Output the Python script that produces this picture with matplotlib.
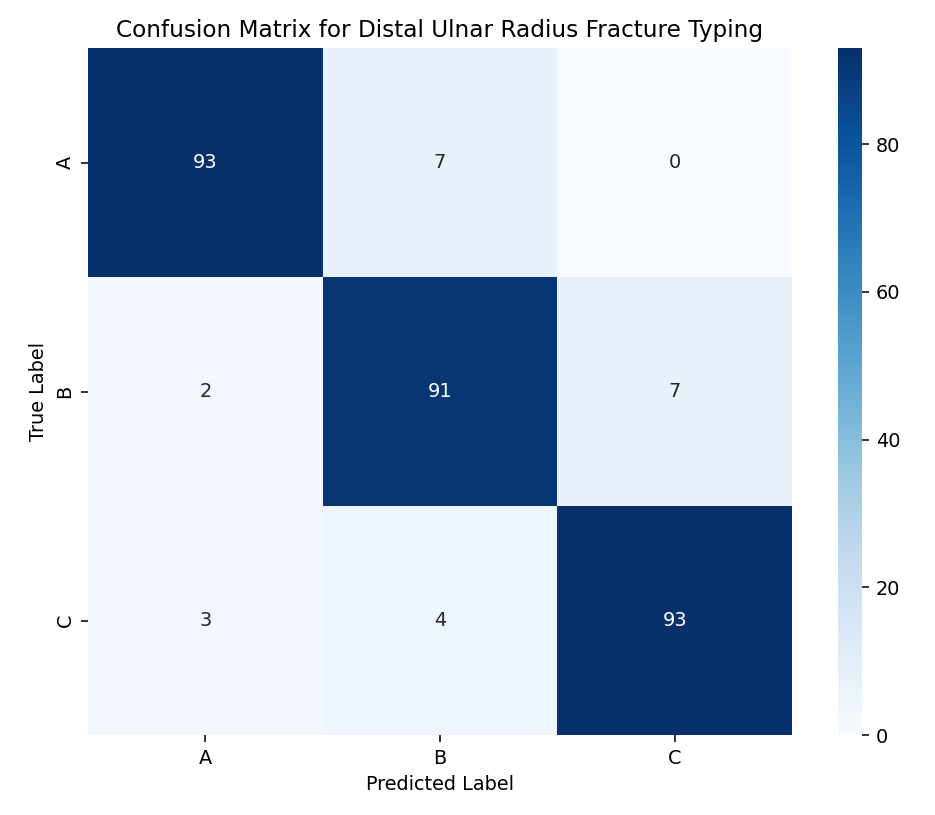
import matplotlib
matplotlib.use("Agg")
import matplotlib.pyplot as plt
import seaborn as sns
import numpy as np

labels = ["A", "B", "C"]
row_A = [93, 7, 0]
row_B = [2, 91, 7]
row_C = [3, 4, 93]
cm = np.array([row_A, row_B, row_C])

dpi = 139
fig = plt.figure(figsize=(935 / dpi, 815 / dpi), dpi=dpi)
ax = fig.add_axes([0.094, 0.098, 0.753, 0.843])
cax = fig.add_axes([0.896, 0.098, 0.026, 0.843])
sns.heatmap(cm, annot=True, fmt="d", cmap="Blues", xticklabels=labels,
            yticklabels=labels, ax=ax, cbar_ax=cax)
ax.set_title("Confusion Matrix for Distal Ulnar Radius Fracture Typing")
ax.set_xlabel("Predicted Label")
ax.set_ylabel("True Label")
fig.savefig("out.png", dpi=dpi)
